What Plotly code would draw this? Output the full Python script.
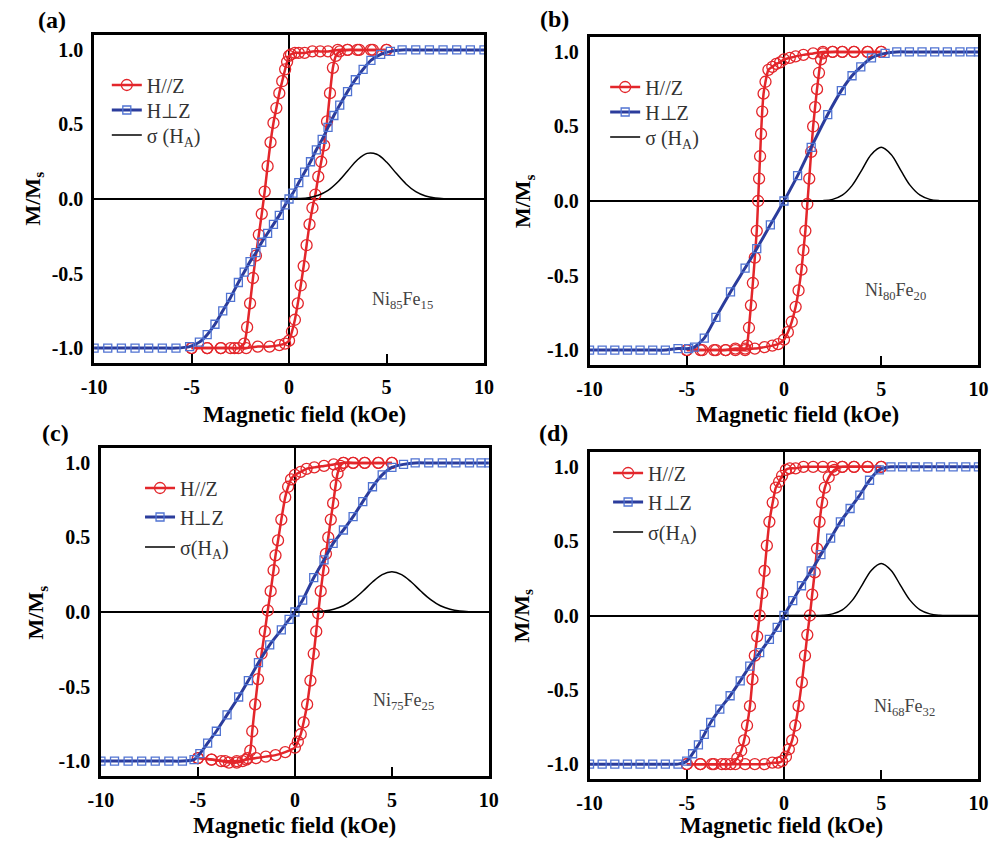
import plotly.graph_objects as go

# ---------------- data ----------------
# Panel (a) Ni85Fe15
a_par_down_h = [5.0, 4.3, 3.6, 3.0, 2.5, 2.0, 1.6, 1.2, 0.8, 0.5, 0.3, 0.1, 0.0, -0.1, -0.2, -0.35, -0.5, -0.65, -0.8, -0.95, -1.1, -1.25, -1.4, -1.55, -1.7, -1.85, -2.0, -2.15, -2.3, -2.6, -3.0, -3.5, -4.2, -5.0]
a_par_down_m = [1.0, 1.0, 1.0, 1.0, 1.0, 0.99, 0.99, 0.99, 0.98, 0.98, 0.98, 0.97, 0.96, 0.92, 0.87, 0.79, 0.71, 0.61, 0.51, 0.38, 0.22, 0.05, -0.1, -0.24, -0.38, -0.53, -0.7, -0.86, -0.97, -1.0, -1.0, -1.0, -1.0, -1.0]
a_par_up_h = [-5.0, -4.2, -3.5, -2.8, -2.2, -1.6, -1.0, -0.5, -0.2, 0.0, 0.15, 0.3, 0.45, 0.6, 0.75, 0.9, 1.05, 1.2, 1.35, 1.5, 1.65, 1.8, 1.95, 2.1, 2.25, 2.4, 2.6, 3.0, 3.5, 4.2, 5.0]
a_par_up_m = [-1.0, -1.0, -1.0, -1.0, -1.0, -0.99, -0.99, -0.98, -0.97, -0.95, -0.89, -0.81, -0.7, -0.58, -0.45, -0.31, -0.17, -0.06, 0.03, 0.15, 0.25, 0.36, 0.52, 0.71, 0.88, 0.96, 0.99, 1.0, 1.0, 1.0, 1.0]
a_perp_h = [-10.0, -9.3, -8.6, -7.9, -7.2, -6.5, -5.8, -5.1, -4.6, -4.2, -3.8, -3.4, -3.0, -2.6, -2.3, -2.0, -1.7, -1.4, -1.1, -0.8, -0.5, -0.2, 0.0, 0.2, 0.5, 0.8, 1.1, 1.4, 1.7, 2.0, 2.3, 2.6, 3.0, 3.4, 3.8, 4.2, 4.7, 5.2, 5.8, 6.5, 7.2, 7.9, 8.6, 9.3, 10.0]
a_perp_m = [-1.0, -1.0, -1.0, -1.0, -1.0, -1.0, -1.0, -0.99, -0.96, -0.91, -0.84, -0.75, -0.66, -0.56, -0.49, -0.42, -0.36, -0.29, -0.23, -0.17, -0.11, -0.04, 0.0, 0.04, 0.11, 0.18, 0.25, 0.33, 0.4, 0.48, 0.56, 0.63, 0.72, 0.8, 0.87, 0.93, 0.97, 0.99, 1.0, 1.0, 1.0, 1.0, 1.0, 1.0, 1.0]
a_sig_h = [0.0, 0.5, 1.0, 1.5, 2.0, 2.5, 3.0, 3.5, 4.0, 4.5, 5.0, 5.5, 6.0, 6.5, 7.0, 7.5, 8.0, 8.5, 9.0, 9.5, 10.0]
a_sig_m = [0.0, 0.003, 0.009, 0.025, 0.058, 0.114, 0.188, 0.262, 0.306, 0.3, 0.248, 0.172, 0.101, 0.049, 0.02, 0.007, 0.002, 0.0, 0.0, 0.0, 0.0]

# Panel (b) Ni80Fe20
b_par_down_h = [5.0, 4.3, 3.6, 3.0, 2.5, 2.0, 1.5, 1.0, 0.6, 0.3, 0.0, -0.2, -0.4, -0.6, -0.8, -0.95, -1.05, -1.12, -1.18, -1.23, -1.28, -1.33, -1.4, -1.5, -1.6, -1.7, -1.8, -1.9, -2.0, -2.5, -3.0, -3.5, -4.2, -5.0]
b_par_down_m = [1.0, 1.0, 1.0, 1.0, 1.0, 1.0, 0.99, 0.98, 0.97, 0.96, 0.95, 0.93, 0.92, 0.9, 0.88, 0.8, 0.72, 0.6, 0.45, 0.3, 0.15, 0.0, -0.2, -0.38, -0.55, -0.7, -0.85, -0.97, -1.0, -1.0, -1.0, -1.0, -1.0, -1.0]
b_par_up_h = [-5.0, -4.3, -3.6, -3.0, -2.5, -2.0, -1.5, -1.0, -0.6, -0.3, 0.0, 0.2, 0.4, 0.6, 0.75, 0.9, 1.0, 1.1, 1.2, 1.3, 1.4, 1.5, 1.6, 1.7, 1.8, 1.9, 2.0, 2.5, 3.0, 3.6, 4.3, 5.0]
b_par_up_m = [-1.0, -1.0, -1.0, -1.0, -0.99, -0.99, -0.99, -0.98, -0.97, -0.96, -0.93, -0.88, -0.81, -0.71, -0.6, -0.46, -0.33, -0.2, -0.02, 0.15, 0.33, 0.5, 0.63, 0.75, 0.86, 0.95, 0.99, 1.0, 1.0, 1.0, 1.0, 1.0]
b_perp_h = [-10.0, -9.35, -8.7, -8.05, -7.4, -6.75, -6.1, -5.45, -4.9, -4.6, -4.1, -3.5, -2.75, -2.0, -1.4, -0.7, 0.0, 0.7, 1.4, 2.25, 2.95, 3.5, 3.95, 4.5, 5.2, 5.8, 6.45, 7.1, 7.75, 8.4, 9.05, 9.6, 10.0]
b_perp_m = [-1.0, -1.0, -1.0, -1.0, -1.0, -1.0, -1.0, -0.99, -0.99, -0.98, -0.92, -0.78, -0.61, -0.45, -0.32, -0.16, 0.0, 0.17, 0.36, 0.58, 0.74, 0.84, 0.9, 0.96, 0.99, 1.0, 1.0, 1.0, 1.0, 1.0, 1.0, 1.0, 1.0]
b_sig_h = [0.0, 0.5, 1.0, 1.5, 2.0, 2.5, 3.0, 3.5, 4.0, 4.5, 5.0, 5.5, 6.0, 6.5, 7.0, 7.5, 8.0, 8.5, 9.0, 9.5, 10.0]
b_sig_m = [0.0, 0.0, 0.0, 0.0, 0.002, 0.011, 0.039, 0.103, 0.207, 0.313, 0.36, 0.313, 0.207, 0.103, 0.039, 0.011, 0.002, 0.0, 0.0, 0.0, 0.0]

# Panel (c) Ni75Fe25
c_par_down_h = [5.0, 4.3, 3.6, 3.0, 2.5, 2.0, 1.5, 1.0, 0.6, 0.3, 0.0, -0.2, -0.35, -0.5, -0.7, -0.87, -1.0, -1.1, -1.25, -1.4, -1.55, -1.72, -1.9, -2.05, -2.2, -2.3, -2.45, -2.7, -3.0, -3.4, -3.8, -4.3, -5.0]
c_par_down_m = [1.0, 1.0, 1.0, 1.0, 1.0, 0.99, 0.98, 0.97, 0.96, 0.94, 0.92, 0.89, 0.84, 0.77, 0.62, 0.48, 0.38, 0.28, 0.14, 0.01, -0.13, -0.28, -0.45, -0.62, -0.8, -0.93, -0.98, -1.0, -1.01, -1.01, -1.0, -0.99, -0.98]
c_par_up_h = [-5.0, -4.3, -3.6, -3.0, -2.5, -2.0, -1.5, -1.0, -0.5, 0.0, 0.15, 0.3, 0.45, 0.63, 0.8, 0.97, 1.1, 1.2, 1.33, 1.47, 1.6, 1.72, 1.85, 1.97, 2.1, 2.2, 2.35, 2.5, 3.0, 3.6, 4.3, 5.0]
c_par_up_m = [-0.98, -0.99, -1.0, -1.0, -0.99, -0.98, -0.97, -0.96, -0.94, -0.91, -0.87, -0.82, -0.74, -0.62, -0.46, -0.28, -0.13, -0.01, 0.14, 0.28, 0.39, 0.5, 0.62, 0.73, 0.85, 0.93, 0.98, 1.0, 1.0, 1.0, 1.0, 1.0]
c_perp_h = [-10.0, -9.3, -8.6, -7.9, -7.2, -6.5, -5.8, -5.2, -4.9, -4.5, -4.05, -3.5, -2.9, -2.4, -1.88, -1.3, -0.7, -0.3, 0.0, 0.4, 0.97, 1.5, 1.97, 2.5, 3.0, 3.5, 4.0, 4.5, 5.0, 5.6, 6.2, 6.9, 7.6, 8.3, 9.0, 9.6, 10.0]
c_perp_m = [-1.0, -1.0, -1.0, -1.0, -1.0, -1.0, -1.0, -0.99, -0.95, -0.88, -0.8, -0.69, -0.57, -0.46, -0.34, -0.22, -0.12, -0.05, 0.0, 0.08, 0.23, 0.35, 0.46, 0.55, 0.64, 0.74, 0.84, 0.92, 0.97, 0.99, 1.0, 1.0, 1.0, 1.0, 1.0, 1.0, 1.0]
c_sig_h = [0.0, 0.5, 1.0, 1.5, 2.0, 2.5, 3.0, 3.5, 4.0, 4.5, 5.0, 5.5, 6.0, 6.5, 7.0, 7.5, 8.0, 8.5, 9.0, 9.5, 10.0]
c_sig_m = [0.0, 0.0, 0.002, 0.007, 0.019, 0.042, 0.083, 0.139, 0.201, 0.251, 0.27, 0.251, 0.201, 0.139, 0.083, 0.042, 0.019, 0.007, 0.002, 0.0, 0.0]

# Panel (d) Ni68Fe32
d_par_down_h = [5.0, 4.3, 3.6, 3.0, 2.5, 2.0, 1.5, 1.0, 0.6, 0.3, 0.1, -0.1, -0.25, -0.42, -0.58, -0.75, -0.88, -1.0, -1.12, -1.25, -1.38, -1.5, -1.62, -1.75, -1.9, -2.05, -2.2, -2.4, -2.75, -3.2, -3.7, -4.3, -5.0]
d_par_down_m = [1.0, 1.0, 1.0, 1.0, 1.0, 1.0, 1.0, 1.0, 0.99, 0.99, 0.98, 0.94, 0.9, 0.86, 0.76, 0.63, 0.47, 0.3, 0.15, 0.0, -0.14, -0.27, -0.43, -0.61, -0.74, -0.84, -0.91, -0.96, -1.0, -1.0, -1.0, -1.0, -1.0]
d_par_up_h = [-5.0, -4.3, -3.6, -3.0, -2.5, -2.0, -1.5, -1.0, -0.6, -0.3, -0.1, 0.1, 0.25, 0.42, 0.58, 0.75, 0.92, 1.08, 1.2, 1.33, 1.45, 1.58, 1.7, 1.83, 1.96, 2.1, 2.3, 2.6, 3.0, 3.6, 4.3, 5.0]
d_par_up_m = [-1.0, -1.0, -1.0, -1.0, -1.0, -1.0, -1.0, -1.0, -0.99, -0.99, -0.98, -0.95, -0.9, -0.84, -0.74, -0.61, -0.45, -0.27, -0.13, 0.0, 0.14, 0.29, 0.45, 0.63, 0.76, 0.86, 0.93, 0.98, 1.0, 1.0, 1.0, 1.0]
d_perp_h = [-10.0, -9.35, -8.7, -8.05, -7.4, -6.75, -6.1, -5.45, -5.0, -4.7, -4.4, -4.1, -3.77, -3.3, -2.77, -2.25, -1.76, -1.25, -0.75, -0.35, 0.0, 0.45, 0.9, 1.4, 1.9, 2.4, 2.9, 3.4, 3.9, 4.4, 4.9, 5.5, 6.1, 6.75, 7.4, 8.05, 8.7, 9.35, 10.0]
d_perp_m = [-1.0, -1.0, -1.0, -1.0, -1.0, -1.0, -1.0, -1.0, -0.98, -0.93, -0.87, -0.8, -0.72, -0.63, -0.54, -0.44, -0.34, -0.25, -0.16, -0.08, 0.0, 0.1, 0.2, 0.3, 0.41, 0.52, 0.63, 0.72, 0.81, 0.91, 0.98, 1.0, 1.0, 1.0, 1.0, 1.0, 1.0, 1.0, 1.0]
d_sig_h = [0.0, 0.5, 1.0, 1.5, 2.0, 2.5, 3.0, 3.5, 4.0, 4.5, 5.0, 5.5, 6.0, 6.5, 7.0, 7.5, 8.0, 8.5, 9.0, 9.5, 10.0]
d_sig_m = [0.0, 0.0, 0.0, 0.0, 0.002, 0.011, 0.038, 0.1, 0.201, 0.305, 0.35, 0.305, 0.201, 0.1, 0.038, 0.011, 0.002, 0.0, 0.0, 0.0, 0.0]

panel_labels = ["(a)", "(b)", "(c)", "(d)"]
sample_names = ["Ni<sub>85</sub>Fe<sub>15</sub>", "Ni<sub>80</sub>Fe<sub>20</sub>",
                "Ni<sub>75</sub>Fe<sub>25</sub>", "Ni<sub>68</sub>Fe<sub>32</sub>"]
sigma_names = ["σ (H<sub>A</sub>)", "σ (H<sub>A</sub>)", "σ(H<sub>A</sub>)", "σ(H<sub>A</sub>)"]
x_ticks = [-10, -5, 0, 5, 10]
x_tick_text = ["-10", "-5", "0", "5", "10"]
y_ticks = [-1.0, -0.5, 0.0, 0.5, 1.0]
y_tick_text = ["-1.0", "-0.5", "0.0", "0.5", "1.0"]

# ---------------- styling ----------------
W, H = 1007, 848
SERIF = "Liberation Serif, Times New Roman, serif"
RED = "#e3262b"
BLUE_LINE = "#2b3c9c"
BLUE_MK = "#5073d2"

def px_x(p):
    return p / W

def px_y(p):
    return 1 - p / H

# pixel boxes (left, right, top, bottom)
boxes = [(83, 482, 35, 363), (590, 988, 37, 365), (90, 487, 448, 776), (590, 988, 452, 779)]
legend_x = [96, 606, 130, 609]
legend_rows = [(85, 110, 135), (87, 112, 137), (488, 517, 547), (473, 502, 532)]
label_pos = [(40, 20), (554, 19), (44, 433), (553, 433)]
ytitle_x = [21, 523, 25, 521]
xtitle_y = [414, 414, 825, 825]
xtitle_dx = [16, 14, 0, -3]
sample_pos = [(5.84, -0.68), (5.73, -0.61), (5.62, -0.60), (6.18, -0.62)]

data = [
    (a_par_down_h, a_par_down_m, a_par_up_h, a_par_up_m, a_perp_h, a_perp_m, a_sig_h, a_sig_m),
    (b_par_down_h, b_par_down_m, b_par_up_h, b_par_up_m, b_perp_h, b_perp_m, b_sig_h, b_sig_m),
    (c_par_down_h, c_par_down_m, c_par_up_h, c_par_up_m, c_perp_h, c_perp_m, c_sig_h, c_sig_m),
    (d_par_down_h, d_par_down_m, d_par_up_h, d_par_up_m, d_perp_h, d_perp_m, d_sig_h, d_sig_m),
]

fig = go.Figure()
layout = dict(width=W, height=H, margin=dict(l=0, r=0, t=0, b=0),
              paper_bgcolor="white", plot_bgcolor="white", showlegend=True,
              annotations=[])

def legend_name(k):
    return "legend" if k == 1 else "legend" + str(k)

for i, (pdh, pdm, puh, pum, bh, bm, sh, sm) in enumerate(data):
    n = "" if i == 0 else str(i + 1)
    xa, ya = "x" + n, "y" + n
    legs = [legend_name(3 * i + j + 1) for j in range(3)]
    # red loop (descending + ascending branch)
    fig.add_trace(go.Scatter(
        x=pdh + [None] + puh, y=pdm + [None] + pum, xaxis=xa, yaxis=ya,
        mode="lines+markers", name="H//Z", legend=legs[0],
        line=dict(color=RED, width=2.5, shape="spline", smoothing=0.6),
        marker=dict(symbol="circle-open", size=11, color=RED, line=dict(width=1.3, color=RED)),
        connectgaps=False))
    fig.add_trace(go.Scatter(
        x=bh, y=bm, xaxis=xa, yaxis=ya,
        mode="lines+markers", name="H⊥Z", legend=legs[1],
        line=dict(color=BLUE_LINE, width=3, shape="spline", smoothing=0.6),
        marker=dict(symbol="square-open", size=8, color=BLUE_MK, line=dict(width=1.3, color=BLUE_MK))))
    fig.add_trace(go.Scatter(
        x=sh, y=sm, xaxis=xa, yaxis=ya,
        mode="lines", name=sigma_names[i], legend=legs[2],
        line=dict(color="black", width=1.5, shape="spline", smoothing=1.0)))

    l, r, t, b = boxes[i]
    layout["xaxis" + n] = dict(
        domain=[px_x(l), px_x(r)], range=[-10, 10], anchor=ya,
        tickvals=x_ticks, ticktext=x_tick_text, ticks="inside", ticklen=9, tickwidth=2,
        tickcolor="black", showline=True, linewidth=2.5, linecolor="black", mirror=True,
        showgrid=False, zeroline=True, zerolinecolor="black", zerolinewidth=1.5,
        tickfont=dict(family=SERIF, size=20, color="black", weight="bold"),
        ticklabelstandoff=4, fixedrange=True)
    layout["yaxis" + n] = dict(
        domain=[px_y(b), px_y(t)], range=[-1.1, 1.1], anchor=xa,
        tickvals=y_ticks, ticktext=y_tick_text, ticks="",
        showline=True, linewidth=2.5, linecolor="black", mirror=True,
        showgrid=False, zeroline=True, zerolinecolor="black", zerolinewidth=1.5,
        tickfont=dict(family=SERIF, size=20, color="black", weight="bold"),
        ticklabelstandoff=4, fixedrange=True)
    for j in range(3):
        layout[legs[j]] = dict(
            x=px_x(legend_x[i]), y=px_y(legend_rows[i][j]), xanchor="left", yanchor="middle",
            bgcolor="rgba(0,0,0,0)", borderwidth=0,
            font=dict(family=SERIF, size=20, color="#333333"), itemclick=False)

    anns = layout["annotations"]
    px_l, py_l = label_pos[i]
    anns.append(dict(text="<b>" + panel_labels[i] + "</b>", x=px_x(px_l), y=px_y(py_l),
                     xref="paper", yref="paper", showarrow=False, xanchor="center", yanchor="middle",
                     font=dict(family=SERIF, size=24, color="black")))
    anns.append(dict(text="<b>M/M<sub>s</sub></b>", x=px_x(ytitle_x[i]), y=px_y((t + b) / 2),
                     xref="paper", yref="paper", showarrow=False, textangle=-90,
                     xanchor="center", yanchor="middle",
                     font=dict(family=SERIF, size=22, color="black")))
    anns.append(dict(text="<b>Magnetic field (kOe)</b>", x=px_x((l + r) / 2 + xtitle_dx[i]),
                     y=px_y(xtitle_y[i]), xref="paper", yref="paper", showarrow=False,
                     xanchor="center", yanchor="middle",
                     font=dict(family=SERIF, size=23, color="black")))
    sx, sy = sample_pos[i]
    anns.append(dict(text=sample_names[i], x=sx, y=sy, xref=xa, yref=ya, showarrow=False,
                     xanchor="center", yanchor="middle",
                     font=dict(family=SERIF, size=18, color="#444444")))

fig.update_layout(**layout)
fig.write_html("out.html", post_script="document.body.style.margin='0px';",
               config={"displayModeBar": False})
